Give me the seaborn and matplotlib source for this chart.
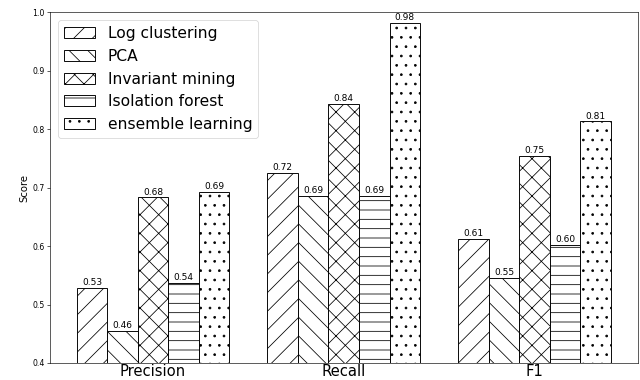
import matplotlib
matplotlib.use("Agg")
import matplotlib.pyplot as plt
import seaborn as sns
import pandas as pd

metrics = ["Precision", "Recall", "F1"]
methods = ["Log clustering", "PCA", "Invariant mining", "Isolation forest", "ensemble learning"]
log_clustering = [0.529, 0.725, 0.612]
pca = [0.455, 0.686, 0.546]
invariant_mining = [0.683, 0.843, 0.754]
isolation_forest = [0.537, 0.686, 0.602]
ensemble_learning = [0.693, 0.981, 0.813]
hatches = ["/", "\\", "x", "-", "."]

series = [log_clustering, pca, invariant_mining, isolation_forest, ensemble_learning]
rows = []
for m, vals in zip(methods, series):
    for met, v in zip(metrics, vals):
        rows.append({"metric": met, "method": m, "score": v})
df = pd.DataFrame(rows)

DPI = 56
fig = plt.figure(figsize=(640 / DPI, 380 / DPI), dpi=DPI)
ax = fig.add_axes([50 / 640, 1 - 363 / 380, 587.5 / 640, 351 / 380])

sns.barplot(data=df, x="metric", y="score", hue="method", order=metrics,
            hue_order=methods, palette=["white"] * 5, edgecolor="black",
            linewidth=1.2, width=0.8, errorbar=None, legend=False, ax=ax)

for cont, h in zip(ax.containers, hatches):
    for p in cont.patches:
        p.set_hatch(h)
        p.set_facecolor("white")
        p.set_edgecolor("black")
    ax.bar_label(cont, fmt="%.2f", fontsize=11.5, padding=1)

ax.set_xlim(-0.54, 2.54)
ax.set_ylim(0.4, 1.0)
ax.set_yticks([0.4, 0.5, 0.6, 0.7, 0.8, 0.9, 1.0])
ax.tick_params(axis="y", labelsize=10)
ax.tick_params(axis="x", labelsize=19, length=0, pad=1.5)
ax.set_xlabel("")
ax.set_ylabel("Score", fontsize=13)

ax.legend(ax.containers, methods, loc="upper left", fontsize=20)

fig.savefig("out.png", dpi=DPI)
